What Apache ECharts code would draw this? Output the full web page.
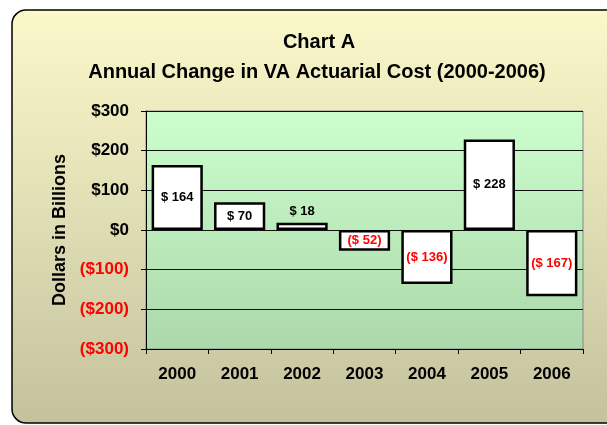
<!DOCTYPE html>
<html>
<head>
<meta charset="utf-8">
<script src="https://cdn.jsdelivr.net/npm/echarts@6/dist/echarts.min.js"></script>
<style>
  html, body { margin: 0; padding: 0; background: #fff; }
  #chart { width: 607px; height: 425px; }
</style>
</head>
<body>
<div id="chart"></div>
<script>
const years = ['2000', '2001', '2002', '2003', '2004', '2005', '2006']
const changes = [164, 70, 18, -52, -136, 228, -167]
const yTicks = { min: -300, max: 300, interval: 100 }

const font = 'Liberation Sans, Arial, sans-serif'

function money(v) {
  return v < 0 ? '($' + (-v) + ')' : '$' + v
}

const barData = changes.map((v) => ({
  value: v,
  label: {
    position: v > 0 && v < 30 ? 'top' : 'inside',
    color: v < 0 ? '#FF0000' : '#000'
  }
}))

const chart = echarts.init(document.getElementById('chart'))
chart.setOption({
  backgroundColor: '#fff',
  animation: false,
  graphic: [{
    type: 'rect',
    z: -100,
    silent: true,
    shape: { x: 12, y: 10, width: 610, height: 413, r: 14 },
    style: {
      fill: new echarts.graphic.LinearGradient(0, 0, 0, 1, [
        { offset: 0, color: '#FBF9CA' },
        { offset: 1, color: '#C4C29D' }
      ]),
      stroke: '#000',
      lineWidth: 1.5
    }
  }],
  title: [
    {
      text: 'Chart A',
      left: 314,
      top: 27,
      textAlign: 'center',
      textStyle: { fontFamily: font, fontSize: 20, fontWeight: 'bold', color: '#000' }
    },
    {
      text: 'Annual Change in VA Actuarial Cost (2000-2006)',
      left: 312,
      top: 57,
      textAlign: 'center',
      textStyle: { fontFamily: font, fontSize: 20, fontWeight: 'bold', color: '#000' }
    }
  ],
  grid: {
    left: 146,
    right: 24,
    top: 111,
    bottom: 76,
    show: true,
    borderColor: '#888',
    borderWidth: 1,
    backgroundColor: new echarts.graphic.LinearGradient(0, 0, 0, 1, [
      { offset: 0, color: '#CCFECC' },
      { offset: 1, color: '#ACD8AB' }
    ])
  },
  xAxis: {
    type: 'category',
    data: years,
    axisLine: { onZero: false, lineStyle: { color: '#000', width: 1 } },
    axisTick: { show: true, length: 5, lineStyle: { color: '#000' } },
    axisLabel: {
      margin: 17,
      fontFamily: font,
      fontSize: 17,
      fontWeight: 'bold',
      color: '#000'
    }
  },
  yAxis: {
    type: 'value',
    min: yTicks.min,
    max: yTicks.max,
    interval: yTicks.interval,
    name: 'Dollars in Billions',
    nameLocation: 'middle',
    nameGap: 73,
    nameTextStyle: { fontFamily: font, fontSize: 18, fontWeight: 'bold', color: '#000' },
    axisLine: { show: true, lineStyle: { color: '#000', width: 1 } },
    axisTick: { show: true, length: 5, lineStyle: { color: '#000' } },
    splitLine: { lineStyle: { color: '#111', width: 1 } },
    axisLabel: {
      margin: 17,
      fontFamily: font,
      fontSize: 17,
      fontWeight: 'bold',
      formatter: money,
      color: (v) => (Number(v) < 0 ? '#FF0000' : '#000')
    }
  },
  series: [{
    type: 'bar',
    data: barData,
    barWidth: '82%',
    itemStyle: { color: '#fff', borderColor: '#000', borderWidth: 2.5 },
    label: {
      show: true,
      fontFamily: font,
      fontSize: 13,
      fontWeight: 'bold',
      formatter: (p) => (p.value < 0 ? '($ ' + (-p.value) + ')' : '$ ' + p.value)
    }
  }]
})
</script>
</body>
</html>
